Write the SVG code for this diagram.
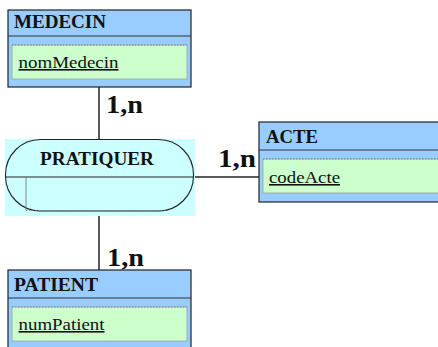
<svg xmlns="http://www.w3.org/2000/svg" width="438" height="347" viewBox="0 0 438 347">
  <style>
    .ent { fill: #99ccff; stroke: #222; stroke-width: 1.2; }
    .sep { stroke: #333; stroke-width: 1.2; }
    .attr { fill: #ccffcc; stroke: #999; stroke-width: 0.7; }
    .attrTop { stroke: #777; stroke-width: 0.8; stroke-dasharray: 1.5 1.5; }
    .title { font-family: "Liberation Serif", "Times New Roman", serif; font-weight: bold; font-size: 18.5px; fill: #111; }
    .key { font-family: "Liberation Serif", "Times New Roman", serif; font-size: 16px; fill: #111; text-decoration: underline; }
    .card { font-family: "Liberation Serif", "Times New Roman", serif; font-weight: bold; font-size: 25px; fill: #111; }
    .link { stroke: #222; stroke-width: 1.5; fill: none; }
  </style>

  <g id="connectors">
    <line class="link" x1="99" y1="87" x2="99" y2="139"/>
    <line class="link" x1="99" y1="211" x2="99" y2="270"/>
    <line class="link" x1="193" y1="177" x2="259" y2="177"/>
    <text class="card" x="106" y="113" textLength="37" lengthAdjust="spacingAndGlyphs">1,n</text>
    <text class="card" x="218" y="167" textLength="38" lengthAdjust="spacingAndGlyphs">1,n</text>
    <text class="card" x="107" y="266" textLength="37" lengthAdjust="spacingAndGlyphs">1,n</text>
  </g>

  <g id="medecin">
    <rect class="ent" x="8" y="10" width="183" height="77"/>
    <line class="sep" x1="8" y1="36" x2="191" y2="36"/>
    <rect class="attr" x="12" y="45" width="175" height="34"/>
    <line class="attrTop" x1="12" y1="45" x2="187" y2="45"/>
    <text class="title" x="14" y="28" textLength="92" lengthAdjust="spacingAndGlyphs">MEDECIN</text>
    <text class="key" x="18.5" y="68" textLength="100" lengthAdjust="spacingAndGlyphs">nomMedecin</text>
  </g>

  <g id="pratiquer">
    <rect x="5" y="139" width="190" height="77" fill="#ccffff"/>
    <rect x="5.5" y="139.5" width="188" height="71.5" rx="35" ry="35" fill="none" stroke="#222" stroke-width="1.1"/>
    <line x1="5.5" y1="177" x2="193.5" y2="177" stroke="#222" stroke-width="1.2"/>
    <line x1="26" y1="177" x2="26" y2="210.5" stroke="#777" stroke-width="0.9"/>
    <line x1="26" y1="210.5" x2="168" y2="210.5" stroke="#777" stroke-width="0.8" stroke-dasharray="1.5 1.5"/>
    <text class="title" x="40" y="165" font-size="19" textLength="114" lengthAdjust="spacingAndGlyphs">PRATIQUER</text>
  </g>

  <g id="acte">
    <rect class="ent" x="259" y="122" width="185" height="80"/>
    <line class="sep" x1="259" y1="150" x2="444" y2="150"/>
    <rect class="attr" x="263" y="159" width="180" height="34"/>
    <line class="attrTop" x1="263" y1="159" x2="443" y2="159"/>
    <text class="title" x="266" y="143" textLength="52" lengthAdjust="spacingAndGlyphs">ACTE</text>
    <text class="key" x="269" y="183" textLength="71" lengthAdjust="spacingAndGlyphs">codeActe</text>
  </g>

  <g id="patient">
    <rect class="ent" x="8" y="270" width="183" height="85"/>
    <line class="sep" x1="8" y1="298" x2="191" y2="298"/>
    <rect class="attr" x="12" y="307" width="175" height="34"/>
    <line class="attrTop" x1="12" y1="307" x2="187" y2="307"/>
    <text class="title" x="14" y="290.5" textLength="84" lengthAdjust="spacingAndGlyphs">PATIENT</text>
    <text class="key" x="18.5" y="330" textLength="86" lengthAdjust="spacingAndGlyphs">numPatient</text>
  </g>
</svg>
